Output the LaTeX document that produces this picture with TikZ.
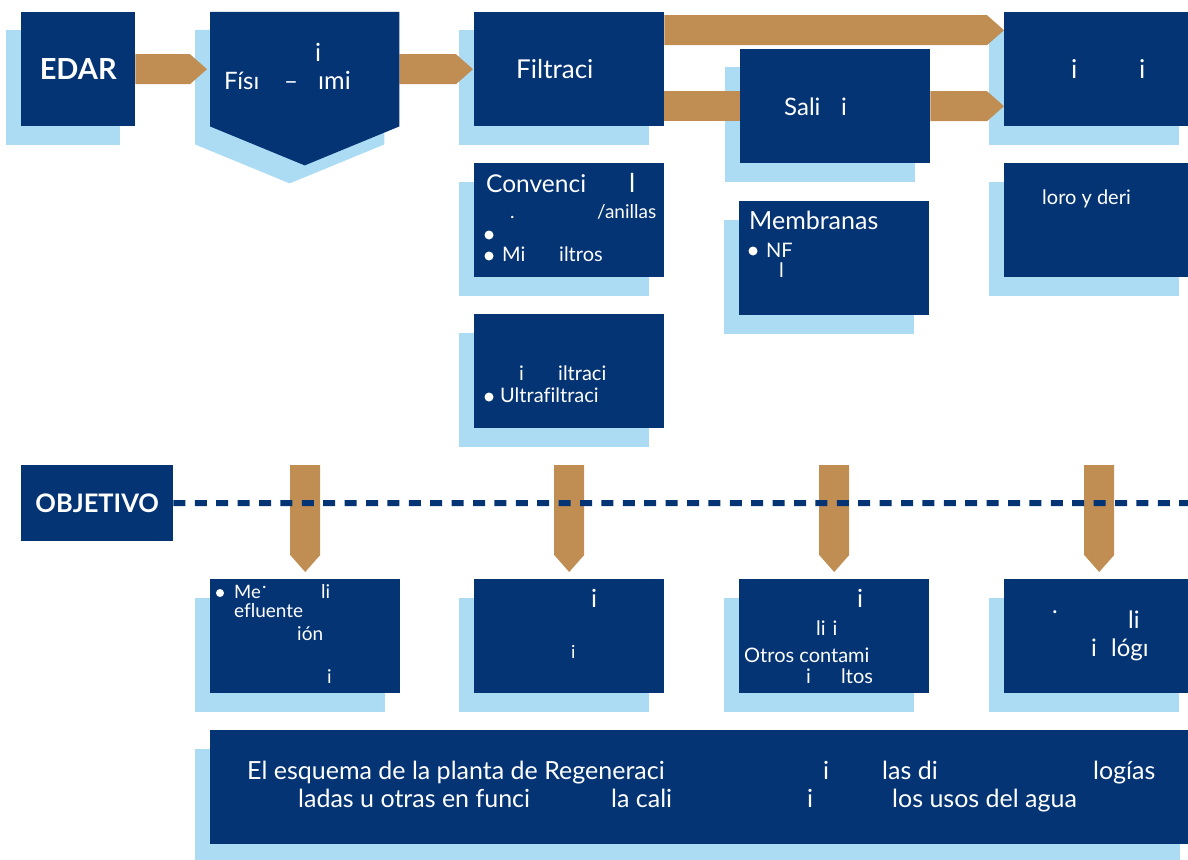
\documentclass[tikz,border=0pt]{standalone}
\usepackage{fontspec}
\setmainfont[Ligatures=NoCommon]{Lato}
\usetikzlibrary{calc}
\definecolor{navy}{HTML}{043474}
\definecolor{lightc}{HTML}{ABDCF4}
\definecolor{tanc}{HTML}{C08E52}
\pgfdeclarelayer{bg}
\pgfdeclarelayer{mid}
\pgfsetlayers{bg,mid,main}
\newcommand\fsz[1]{\fontsize{#1}{#1}\selectfont}
\newcommand\harrow[2]{\fill[tanc] ($(#1)+(0,-15)$) -- ($(#2)+(-17,-15)$) -- (#2) -- ($(#2)+(-17,15)$) -- ($(#1)+(0,15)$) -- cycle;}
\newcommand\darrow[2]{\fill[tanc] ($(#1)+(-15,0)$) -- ($(#1)+(15,0)$) -- ($(#2.north)+(15,-24)$) -- ($(#2.north)+(0,-7)$) -- ($(#2.north)+(-15,-24)$) -- cycle;}
\tikzset{
  box/.style={fill=navy, inner sep=0, minimum width=190pt, minimum height=114pt, anchor=north west},
  txt/.style={text=white, inner sep=0, anchor=base west},
  bul/.style={circle, fill=white, inner sep=0, minimum size=9pt},
  shadowfill/.style={fill=lightc}
}
\begin{document}
\begin{tikzpicture}[x=1pt,y=-1pt]
\path[use as bounding box] (0,0) rectangle (1188,859);
% boxes
\node[box, minimum width=114pt, text=white, font=\bfseries\fsz{29}] (edar) at (21,12) {EDAR};
\node[inner sep=0, minimum width=189pt, minimum height=114pt, anchor=north west] (fis) at (210,12) {};
\fill[navy] (fis.north west) -- (fis.north east) -- (fis.south east) -- ($(fis.south)+(0,39)$) -- (fis.south west) -- cycle;
\node[box] (filt) at (474,12) {};
\node[box] (sal) at (740,49) {};
\node[box] (r1) at (1004,12) {};
\node[box] (conv) at (474,163) {};
\node[box] (memb) at (739,201) {};
\node[box] (r2) at (1004,163) {};
\node[box] (micro) at (474,314) {};
\node[box, minimum width=152pt, minimum height=76pt, text=white, font=\bfseries\fsz{25.5}] (obj) at (21,465) {OBJETIVO};
\node[box] (o1) at (210,579) {};
\node[box] (o2) at (474,579) {};
\node[box] (o3) at (739,579) {};
\node[box] (o4) at (1004,579) {};
\node[box, minimum width=985pt] (banner) at (210,730) {};
% shadows
\begin{pgfonlayer}{bg}
\foreach \n in {edar,filt,sal,r1,conv,memb,r2,micro,o1,o2,o3,o4,banner}{
  \fill[shadowfill] ($(\n.north west)+(-15,18.5)$) rectangle ($(\n.south east)+(-15,18.5)$);
}
\fill[shadowfill] ($(fis.north west)+(-15,18)$) -- ($(fis.north east)+(-15,18)$) -- ($(fis.south east)+(-15,18)$) -- ($(fis.south)+(-15,57)$) -- ($(fis.south west)+(-15,18)$) -- cycle;
\end{pgfonlayer}
% arrows
\coordinate (d1) at (305,465);
\coordinate (d2) at (569,465);
\coordinate (d3) at (834,465);
\coordinate (d4) at (1099,465);
\coordinate (dend) at (1188,503);
\begin{pgfonlayer}{mid}
\harrow{edar.east}{$(fis.west)+(-3,0)$}
\harrow{fis.east}{$(filt.west)+(-1,0)$}
\harrow{$(filt.east)+(0,-39)$}{$(r1.west)+(0,-39)$}
\fill[tanc] ($(filt.east)+(0,22)$) rectangle ($(sal.west)+(0,15)$);
\harrow{sal.east}{$(r1.west)+(0,37)$}
\darrow{d1}{o1}
\darrow{d2}{o2}
\darrow{d3}{o3}
\darrow{d4}{o4}
\end{pgfonlayer}
\draw[navy, line width=6pt, dash pattern=on 12pt off 9.4pt] (obj.east) -- (dend);
% texts top
\node[txt, font=\fsz{25}] (t1) at (315,62) {i};
\node[txt, font=\fsz{24}] (t2) at (224,89) {Físı};
\node[txt, font=\fsz{24}] (t3) at (284,89) {–};
\node[txt, font=\fsz{25}] (t4) at (318,89) {ımi};
\node[txt, font=\fsz{26}] (t5) at (516,78) {Filtraci};
\node[txt, font=\fsz{24}] (t6) at (784,115) {Sali};
\node[txt, font=\fsz{24}] (t7) at (841,115) {i};
\node[txt, font=\fsz{26}] (t8) at (1071,78) {i};
\node[txt, font=\fsz{26}] (t9) at (1139,78) {i};
\node[txt, font=\fsz{20}] (t10) at (1042,204) {loro y deri};
% convencional
\node[txt, font=\fsz{24.5}] (t11) at (486,192) {Convenci};
\node[txt, font=\fsz{26}] (t12) at (629,192) {l};
\node[txt, font=\fsz{19}] (t13) at (510,218) {.};
\node[txt, font=\fsz{19}] (t14) at (597,218) {/anillas};
\node[bul] (b1) at (489,235) {};
\node[bul] (b2) at (489,256) {};
\node[txt, font=\fsz{20}] (t15) at (502,261) {Mi};
\node[txt, font=\fsz{20}] (t16) at (559,261) {iltros};
% membranas
\node[txt, font=\fsz{25}] (t17) at (749,229) {Membranas};
\node[bul] (b3) at (753,251) {};
\node[txt, font=\fsz{20}] (t18) at (766,257) {NF};
\node[txt, font=\fsz{20}] (t19) at (779,277) {l};
% micro
\node[txt, font=\fsz{20}] (t20) at (519,380) {i};
\node[txt, font=\fsz{20}] (t21) at (558,380) {iltraci};
\node[bul] (b4) at (489,397) {};
\node[txt, font=\fsz{20}] (t22) at (500,402) {Ultrafiltraci};
% bottom boxes
\node[bul, minimum size=8pt] (b5) at (220,593) {};
\node[txt, font=\fsz{18.5}] (t23) at (234,598) {Me};
\node[txt, font=\fsz{19}] (t24) at (262,588) {.};
\node[txt, font=\fsz{19}] (t25) at (321,598) {li};
\node[txt, font=\fsz{19}] (t26) at (234,617) {efluente};
\node[txt, font=\fsz{19}] (t27) at (297,640) {ión};
\node[txt, font=\fsz{19}] (t28) at (327,683) {i};
\node[txt, font=\fsz{25}] (t29) at (591,607) {i};
\node[txt, font=\fsz{18}] (t30) at (571,658) {i};
\node[txt, font=\fsz{25}] (t31) at (857,607) {i};
\node[txt, font=\fsz{20}] (t32) at (816,635) {li\hspace{7pt}i};
\node[txt, font=\fsz{20}] (t33) at (744,662) {Otros contami};
\node[txt, font=\fsz{20}] (t34) at (806,683) {i};
\node[txt, font=\fsz{20}] (t35) at (841,683) {ltos};
\node[txt, font=\fsz{24}] (t36) at (1052,613) {.};
\node[txt, font=\fsz{24}] (t37) at (1128,628) {li};
\node[txt, font=\fsz{24}] (t38) at (1091,656) {i};
\node[txt, font=\fsz{24}] (t39) at (1111,656) {lógı};
% banner
\node[txt, font=\fsz{25}] (t40) at (247,779) {El esquema de la planta de Regeneraci};
\node[txt, font=\fsz{25}] (t41) at (823,779) {i};
\node[txt, font=\fsz{25}] (t42) at (882,779) {las di};
\node[txt, font=\fsz{25}] (t43) at (1093,779) {logías};
\node[txt, font=\fsz{25}] (t44) at (298,807) {ladas u otras en funci};
\node[txt, font=\fsz{25}] (t45) at (611,807) {la cali};
\node[txt, font=\fsz{25}] (t46) at (807,807) {i};
\node[txt, font=\fsz{25}] (t47) at (892,807) {los usos del agua};
\end{tikzpicture}
\end{document}
